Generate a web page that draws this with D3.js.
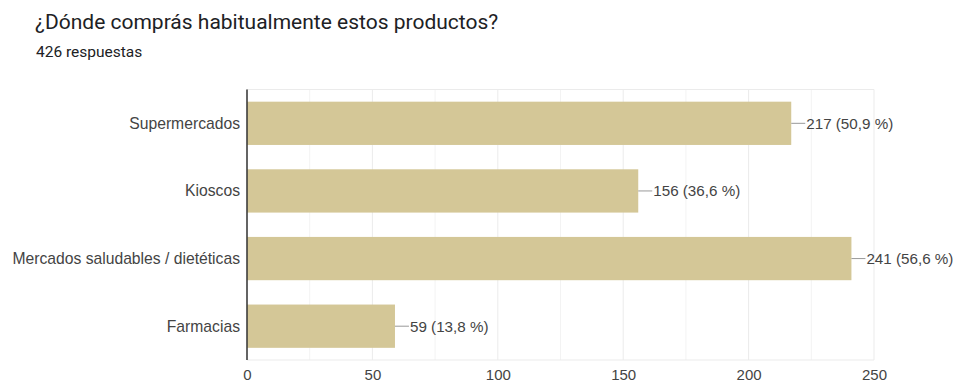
<!DOCTYPE html>
<html lang="es">
<head>
    <meta charset="UTF-8">
    <title>¿Dónde comprás habitualmente estos productos?</title>
    <script src="https://d3js.org/d3.v7.min.js"></script>
    <style>
        body {
            margin: 0;
            background: #fff;
        }

        #title {
            font-family: Roboto, sans-serif;
            font-size: 21px;
            fill: #202124;
        }

        #subtitle {
            font-family: Roboto, sans-serif;
            font-size: 15.5px;
            fill: #202124;
        }

        .cat, .val, .tick text {
            font-family: "Liberation Sans", Arial, sans-serif;
            font-size: 15.7px;
            fill: #444;
        }

        .val {
            font-size: 15.2px;
        }

        .tick text {
            font-size: 15px;
        }
    </style>
</head>

<body>
<svg id="canvas" width="960" height="383"></svg>

<script>
    // answers to the question
    let categories = ["Supermercados", "Kioscos", "Mercados saludables / dietéticas", "Farmacias"]
    let counts = [217, 156, 241, 59]
    let percents = ["50,9", "36,6", "56,6", "13,8"]
    let tickValues = [0, 50, 100, 150, 200, 250]
    let gridValues = d3.range(0, 251, 25)

    let svg = d3.select('#canvas')

    svg.append('text').attr('id', 'title')
        .attr('x', 35).attr('y', 29)
        .text('¿Dónde comprás habitualmente estos productos?')
    svg.append('text').attr('id', 'subtitle')
        .attr('x', 36).attr('y', 57)
        .text('426 respuestas')

    let plotLeft = 247, plotRight = 874, plotTop = 89.5, plotBottom = 360

    let x = d3.scaleLinear().domain([0, 250]).range([plotLeft, plotRight])
    let y = d3.scaleBand().domain(categories).range([plotTop, plotBottom]).paddingInner(0.36).paddingOuter(0.18)

    // grid
    let grid = svg.append('g')
    grid.selectAll('line.v')
        .data(gridValues)
        .enter()
        .append('line')
        .attr('x1', d => x(d)).attr('x2', d => x(d))
        .attr('y1', plotTop).attr('y2', plotBottom)
        .attr('stroke', d => d % 50 == 0 ? '#ebebeb' : '#f3f3f3')
        .attr('stroke-width', 1)
    grid.selectAll('line.h')
        .data([plotTop, plotBottom])
        .enter()
        .append('line')
        .attr('x1', plotLeft).attr('x2', plotRight)
        .attr('y1', d => d).attr('y2', d => d)
        .attr('stroke', '#ebebeb')

    // bars
    let rows = categories.map((c, i) => ({cat: c, n: counts[i], pct: percents[i]}))
    svg.append('g').selectAll('rect')
        .data(rows)
        .enter()
        .append('rect')
        .attr('x', x(0))
        .attr('y', d => y(d.cat))
        .attr('width', d => x(d.n) - x(0))
        .attr('height', y.bandwidth())
        .attr('fill', '#d4c797')

    // leader lines + values
    let labels = svg.append('g')
    labels.selectAll('line')
        .data(rows)
        .enter()
        .append('line')
        .attr('x1', d => x(d.n)).attr('x2', d => x(d.n) + 14)
        .attr('y1', d => y(d.cat) + y.bandwidth() / 2)
        .attr('y2', d => y(d.cat) + y.bandwidth() / 2)
        .attr('stroke', '#999')
    labels.selectAll('text')
        .data(rows)
        .enter()
        .append('text')
        .attr('class', 'val')
        .attr('x', d => x(d.n) + 15)
        .attr('y', d => y(d.cat) + y.bandwidth() / 2)
        .attr('dy', '0.35em')
        .text(d => d.n + ' (' + d.pct + ' %)')

    // category labels
    svg.append('g').selectAll('text')
        .data(categories)
        .enter()
        .append('text')
        .attr('class', 'cat')
        .attr('x', plotLeft - 7)
        .attr('y', d => y(d) + y.bandwidth() / 2)
        .attr('dy', '0.35em')
        .attr('text-anchor', 'end')
        .text(d => d)

    // x axis labels
    let xAxis = svg.append('g')
        .attr('transform', 'translate(0,' + plotBottom + ')')
        .call(d3.axisBottom(x).tickValues(tickValues).tickSize(0).tickPadding(9))
    xAxis.select('.domain').remove()

    // left axis line
    svg.append('line')
        .attr('x1', plotLeft).attr('x2', plotLeft)
        .attr('y1', plotTop).attr('y2', plotBottom)
        .attr('stroke', '#333').attr('stroke-width', 1.5)
</script>
</body>
</html>
